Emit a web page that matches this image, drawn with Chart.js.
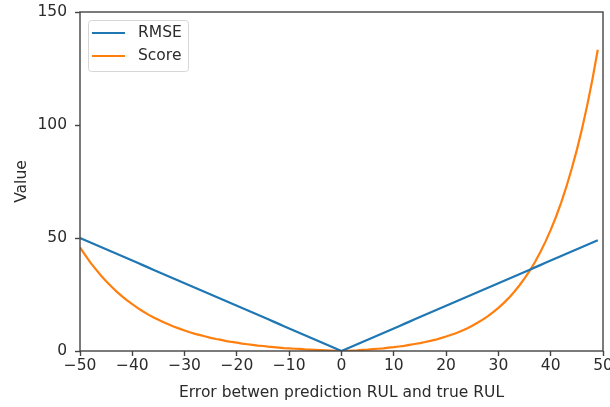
<!DOCTYPE html>
<html>
<head>
<meta charset="utf-8">
<script src="https://cdn.jsdelivr.net/npm/chart.js@4.4.1/dist/chart.umd.min.js"></script>
<style>
  html, body { margin: 0; padding: 0; background: #fff; }
  #wrap { width: 610px; height: 407px; }
</style>
</head>
<body>
<div id="wrap"><canvas id="chart" width="610" height="407"></canvas></div>
<script>
// error values along the x axis (-50 .. 49)
const errors = [
  -50, -49, -48, -47, -46, -45, -44, -43, -42, -41,
  -40, -39, -38, -37, -36, -35, -34, -33, -32, -31,
  -30, -29, -28, -27, -26, -25, -24, -23, -22, -21,
  -20, -19, -18, -17, -16, -15, -14, -13, -12, -11,
  -10, -9, -8, -7, -6, -5, -4, -3, -2, -1,
  0, 1, 2, 3, 4, 5, 6, 7, 8, 9,
  10, 11, 12, 13, 14, 15, 16, 17, 18, 19,
  20, 21, 22, 23, 24, 25, 26, 27, 28, 29,
  30, 31, 32, 33, 34, 35, 36, 37, 38, 39,
  40, 41, 42, 43, 44, 45, 46, 47, 48, 49
];

const rmseValues = [
  50, 49, 48, 47, 46, 45, 44, 43, 42, 41,
  40, 39, 38, 37, 36, 35, 34, 33, 32, 31,
  30, 29, 28, 27, 26, 25, 24, 23, 22, 21,
  20, 19, 18, 17, 16, 15, 14, 13, 12, 11,
  10, 9, 8, 7, 6, 5, 4, 3, 2, 1,
  0, 1, 2, 3, 4, 5, 6, 7, 8, 9,
  10, 11, 12, 13, 14, 15, 16, 17, 18, 19,
  20, 21, 22, 23, 24, 25, 26, 27, 28, 29,
  30, 31, 32, 33, 34, 35, 36, 37, 38, 39,
  40, 41, 42, 43, 44, 45, 46, 47, 48, 49
];

const scoreValues = [
  45.8, 42.4, 39.1, 36.2, 33.4, 30.9, 28.5, 26.3, 24.3, 22.4,
  20.7, 19.1, 17.6, 16.2, 14.9, 13.8, 12.7, 11.7, 10.7, 9.9,
  9.1, 8.3, 7.6, 7.0, 6.4, 5.8, 5.3, 4.9, 4.4, 4.0,
  3.7, 3.3, 3.0, 2.7, 2.4, 2.2, 1.9, 1.7, 1.5, 1.3,
  1.2, 1.0, 0.9, 0.7, 0.6, 0.5, 0.4, 0.3, 0.2, 0.1,
  0, 0.1, 0.2, 0.3, 0.5, 0.6, 0.8, 1.0, 1.2, 1.5,
  1.7, 2.0, 2.3, 2.7, 3.1, 3.5, 4.0, 4.5, 5.0, 5.7,
  6.4, 7.2, 8.0, 9.0, 10.0, 11.2, 12.5, 13.9, 15.4, 17.2,
  19.1, 21.2, 23.5, 26.1, 29.0, 32.1, 35.6, 39.4, 43.7, 48.4,
  53.6, 59.3, 65.7, 72.7, 80.5, 89.0, 98.5, 108.9, 120.5, 133.3
];

const seriesNames = ['RMSE', 'Score'];
const xTickValues = [-50, -40, -30, -20, -10, 0, 10, 20, 30, 40, 50];
const yTickValues = [0, 50, 100, 150];

const axisColor = '#444';
const textColor = '#2b2b2b';
const fontFamily = '"DejaVu Sans", sans-serif';
const fontSize = 15.5;

function toPoints(values) {
  return errors.map((x, i) => ({ x: x, y: values[i] }));
}

// frame around the plot area, like matplotlib's box
const framePlugin = {
  id: 'frame',
  afterDraw(chart) {
    const { ctx, chartArea } = chart;
    ctx.save();
    ctx.strokeStyle = axisColor;
    ctx.lineWidth = 1.4;
    ctx.strokeRect(chartArea.left, chartArea.top,
      chartArea.right - chartArea.left, chartArea.bottom - chartArea.top);
    ctx.restore();
  }
};

// legend box drawn inside the plot, top-left
const insideLegend = {
  id: 'insideLegend',
  afterDraw(chart) {
    const { ctx, chartArea } = chart;
    const x = chartArea.left + 8;
    const y = chartArea.top + 8;
    const w = 100;
    const h = 51;
    ctx.save();
    ctx.fillStyle = 'rgba(255,255,255,0.8)';
    ctx.strokeStyle = '#d6d6d6';
    ctx.lineWidth = 1;
    ctx.beginPath();
    ctx.roundRect(x + 0.5, y + 0.5, w, h, 3);
    ctx.fill();
    ctx.stroke();

    ctx.font = fontSize + 'px ' + fontFamily;
    ctx.textBaseline = 'middle';
    chart.data.datasets.forEach((ds, i) => {
      const rowY = y + 13 + i * 23;
      ctx.strokeStyle = ds.borderColor;
      ctx.lineWidth = 2.2;
      ctx.beginPath();
      ctx.moveTo(x + 4, rowY);
      ctx.lineTo(x + 37, rowY);
      ctx.stroke();
      ctx.fillStyle = textColor;
      ctx.fillText(ds.label, x + 50, rowY);
    });
    ctx.restore();
  }
};

const ctx = document.getElementById('chart').getContext('2d');
new Chart(ctx, {
  type: 'line',
  data: {
    datasets: [
      {
        label: seriesNames[0],
        data: toPoints(rmseValues),
        borderColor: '#1f77b4',
        borderWidth: 2.2,
        pointRadius: 0,
        tension: 0
      },
      {
        label: seriesNames[1],
        data: toPoints(scoreValues),
        borderColor: '#ff7f0e',
        borderWidth: 2.2,
        pointRadius: 0,
        tension: 0
      }
    ]
  },
  options: {
    responsive: false,
    animation: false,
    layout: { padding: { left: 0, right: 7, top: 12, bottom: 0 } },
    plugins: {
      legend: { display: false },
      tooltip: { enabled: false }
    },
    scales: {
      x: {
        type: 'linear',
        min: -50,
        max: 50,
        afterBuildTicks(scale) {
          scale.ticks = xTickValues.map(v => ({ value: v }));
        },
        afterFit(scale) {
          scale.height = 56;
          scale.paddingLeft = 0;
          scale.paddingRight = 0;
        },
        ticks: {
          color: textColor,
          font: { family: fontFamily, size: fontSize },
          padding: 1,
          maxRotation: 0,
          autoSkip: false,
          callback: v => String(v).replace('-', '\u2212')
        },
        grid: {
          drawOnChartArea: false,
          tickLength: 5,
          tickColor: axisColor,
          tickWidth: 1.4
        },
        border: { display: false },
        title: {
          display: true,
          text: 'Error betwen prediction RUL and true RUL',
          color: textColor,
          font: { family: fontFamily, size: fontSize },
          padding: { top: 0, bottom: 5 }
        }
      },
      y: {
        type: 'linear',
        min: 0,
        max: 150,
        afterBuildTicks(scale) {
          scale.ticks = yTickValues.map(v => ({ value: v }));
        },
        afterFit(scale) {
          scale.width = 80;
          scale.paddingTop = 0;
          scale.paddingBottom = 0;
        },
        ticks: {
          color: textColor,
          font: { family: fontFamily, size: fontSize },
          padding: 8
        },
        grid: {
          drawOnChartArea: false,
          tickLength: 5,
          tickColor: axisColor,
          tickWidth: 1.4
        },
        border: { display: false },
        title: {
          display: true,
          text: 'Value',
          color: textColor,
          font: { family: fontFamily, size: fontSize },
          padding: { top: 13, bottom: 0 }
        }
      }
    }
  },
  plugins: [framePlugin, insideLegend]
});
</script>
</body>
</html>
